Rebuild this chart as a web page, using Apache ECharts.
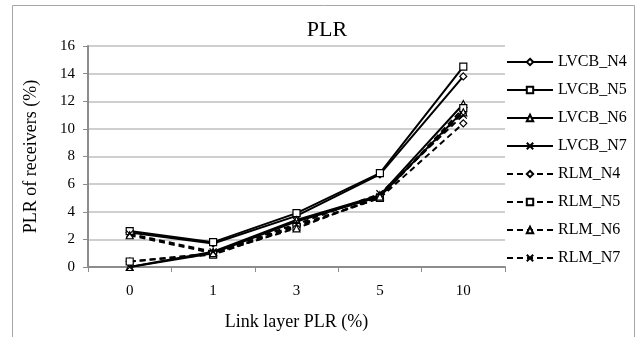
<!DOCTYPE html>
<html>
<head>
<meta charset="utf-8">
<script src="https://cdn.jsdelivr.net/npm/echarts@6/dist/echarts.min.js"></script>
<style>
  html, body { margin: 0; padding: 0; background: #fff; }
  #main { width: 641px; height: 337px; }
</style>
</head>
<body>
<div id="main"></div>
<script>
// categories (link layer PLR, %)
var categories = ['0', '1', '3', '5', '10'];
// PLR of receivers (%)
var lvcbN4 = [2.5, 1.7, 3.7, 6.7, 13.8];
var lvcbN5 = [2.6, 1.8, 3.9, 6.8, 14.5];
var lvcbN6 = [0.0, 1.1, 3.4, 5.2, 11.8];
var lvcbN7 = [0.0, 1.0, 3.3, 5.1, 11.3];
var rlmN4 = [0.4, 1.0, 3.0, 5.0, 10.4];
var rlmN5 = [0.4, 0.9, 2.9, 5.0, 11.5];
var rlmN6 = [2.3, 1.0, 2.8, 5.1, 11.2];
var rlmN7 = [2.4, 1.1, 3.1, 5.3, 11.0];

var font = 'Liberation Serif';
var crossPath = 'path://M0,0L10,10M10,0L0,10';

// build one line series
function makeSeries(name, data, symbol, dashed){
    return {
        name: name,
        type: 'line',
        data: data,
        symbol: symbol,
        symbolSize: 7,
        showAllSymbol: true,
        lineStyle: { color: '#000', width: 2, type: dashed ? [6, 4] : 'solid' },
        itemStyle: { color: '#fff', borderColor: '#000', borderWidth: 1.2 },
        emphasis: { disabled: true },
        animation: false
    };
}

var myChart = echarts.init(document.getElementById('main'));
var option = {
    backgroundColor: '#fff',
    textStyle: { fontFamily: font },
    title: {
        text: 'PLR',
        left: 322,
        textAlign: 'center',
        top: 14,
        textStyle: { fontFamily: font, fontSize: 22, fontWeight: 'normal', color: '#000' }
    },
    graphic: [{
        type: 'rect',
        shape: { x: 12.5, y: 5.5, width: 622, height: 340 },
        style: { fill: 'none', stroke: '#a6a6a6', lineWidth: 1 },
        silent: true,
        z: -1
    }],
    legend: {
        orient: 'vertical',
        left: 501,
        top: 49,
        itemWidth: 46,
        itemHeight: 8,
        itemGap: 12,
        textStyle: { fontFamily: font, fontSize: 16, lineHeight: 8, color: '#000' },
        data: ['LVCB_N4', 'LVCB_N5', 'LVCB_N6', 'LVCB_N7', 'RLM_N4', 'RLM_N5', 'RLM_N6', 'RLM_N7']
    },
    grid: { left: 88, right: 136, top: 46, bottom: 70 },
    xAxis: {
        type: 'category',
        data: categories,
        boundaryGap: true,
        name: 'Link layer PLR (%)',
        nameLocation: 'middle',
        nameGap: 46,
        nameTextStyle: { fontFamily: font, fontSize: 18, color: '#000' },
        axisLine: { lineStyle: { color: '#8c8c8c', width: 2 } },
        axisTick: { show: true, length: 5, lineStyle: { color: '#8c8c8c' } },
        axisLabel: { fontFamily: font, fontSize: 15, color: '#000', margin: 17 }
    },
    yAxis: {
        type: 'value',
        min: 0,
        max: 16,
        interval: 2,
        name: 'PLR of receivers (%)',
        nameLocation: 'middle',
        nameGap: 48,
        nameTextStyle: { fontFamily: font, fontSize: 18, color: '#000' },
        axisLine: { show: true, lineStyle: { color: '#8c8c8c', width: 2 } },
        axisTick: { show: true, length: 5, lineStyle: { color: '#8c8c8c' } },
        axisLabel: { fontFamily: font, fontSize: 15, color: '#000', margin: 13 },
        splitLine: { lineStyle: { color: '#bfbfbf', width: 1.5 } }
    },
    series: [
        makeSeries('LVCB_N4', lvcbN4, 'diamond', false),
        makeSeries('LVCB_N5', lvcbN5, 'rect', false),
        makeSeries('LVCB_N6', lvcbN6, 'triangle', false),
        makeSeries('LVCB_N7', lvcbN7, crossPath, false),
        makeSeries('RLM_N4', rlmN4, 'diamond', true),
        makeSeries('RLM_N5', rlmN5, 'rect', true),
        makeSeries('RLM_N6', rlmN6, 'triangle', true),
        makeSeries('RLM_N7', rlmN7, crossPath, true)
    ]
};
myChart.setOption(option);
</script>
</body>
</html>
